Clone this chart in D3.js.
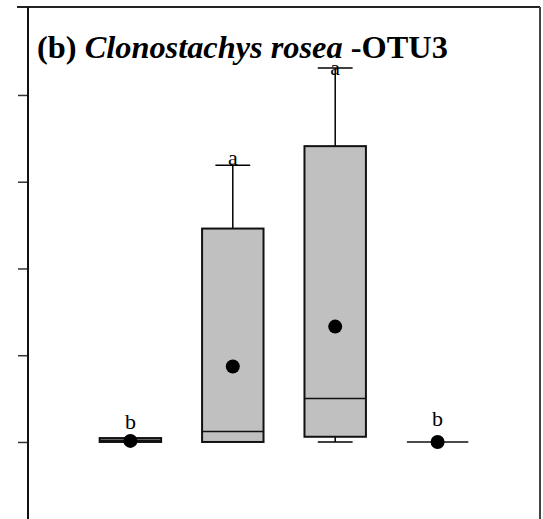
<!DOCTYPE html>
<html><head><meta charset="utf-8">
<script src="https://cdn.jsdelivr.net/npm/d3@7"></script>
<style>body{margin:0;background:#fff}svg{display:block}</style>
</head><body>
<svg id="c" width="543" height="519"></svg>
<script>
// ---- data ----
const categories = ["G1", "G2", "G3", "G4"];
const whiskerLow  = [0.00, 0.00, 0.00, 0.00];
const q1          = [0.00, 0.00, 0.06, 0.00];
const medians     = [0.02, 0.12, 0.50, 0.00];
const q3          = [0.045, 2.46, 3.41, 0.00];
const whiskerHigh = [0.045, 3.19, 4.31, 0.00];
const means       = [0.012, 0.87, 1.33, 0.00];
const letters     = ["b", "a", "a", "b"];
const letterY     = [0.15, 3.19, 4.23, 0.18];
const yTicks      = [0, 1, 2, 3, 4];

const FONT = "'Liberation Serif', 'Times New Roman', serif";
const svg = d3.select("#c");
const x = d3.scaleLinear().domain([0, 5]).range([28, 540]);
const y = d3.scaleLinear().domain([-0.888, 5.014]).range([519, 7]);
const bw = x(0.6) - x(0);
const cw = x(0.34) - x(0);

// frame
svg.append("line").attr("x1", 17).attr("x2", 540).attr("y1", 7).attr("y2", 7)
  .attr("stroke", "#222").attr("stroke-width", 2);
svg.append("line").attr("x1", 540).attr("x2", 540).attr("y1", 7).attr("y2", 519)
  .attr("stroke", "#444").attr("stroke-width", 2);

// y axis
const yAxis = d3.axisLeft(y).tickValues(yTicks).tickSize(10).tickFormat(() => "");
const ga = svg.append("g").attr("transform", "translate(28,0)").call(yAxis);
ga.select(".domain").remove();
ga.selectAll(".tick line").attr("stroke", "#333").attr("stroke-width", 1.5);
svg.append("line").attr("x1", 28).attr("x2", 28).attr("y1", 7).attr("y2", 519)
  .attr("stroke", "#111").attr("stroke-width", 2);

const data = categories.map((c, i) => ({
  c, i: i + 1, lo: whiskerLow[i], q1: q1[i], med: medians[i], q3: q3[i],
  hi: whiskerHigh[i], mean: means[i], letter: letters[i], ly: letterY[i]
}));

const g = svg.append("g");
data.forEach(d => {
  const cx = x(d.i);
  if (d.hi > d.q3) {
    g.append("line").attr("x1", cx).attr("x2", cx).attr("y1", y(d.q3)).attr("y2", y(d.hi))
      .attr("stroke", "#000").attr("stroke-width", 1.5);
    g.append("line").attr("x1", cx - cw/2).attr("x2", cx + cw/2).attr("y1", y(d.hi)).attr("y2", y(d.hi))
      .attr("stroke", "#000").attr("stroke-width", 1.5);
  }
  if (d.lo < d.q1) {
    g.append("line").attr("x1", cx).attr("x2", cx).attr("y1", y(d.q1)).attr("y2", y(d.lo))
      .attr("stroke", "#000").attr("stroke-width", 1.5);
    g.append("line").attr("x1", cx - cw/2).attr("x2", cx + cw/2).attr("y1", y(d.lo)).attr("y2", y(d.lo))
      .attr("stroke", "#000").attr("stroke-width", 1.5);
  }
  g.append("rect").attr("x", cx - bw/2).attr("width", bw)
    .attr("y", y(d.q3)).attr("height", Math.max(0, y(d.q1) - y(d.q3)))
    .attr("fill", "#c0c0c0").attr("stroke", "#111").attr("stroke-width", 2);
  g.append("line").attr("x1", cx - bw/2).attr("x2", cx + bw/2).attr("y1", y(d.med)).attr("y2", y(d.med))
    .attr("stroke", "#111").attr("stroke-width", 1.5);
  g.append("circle").attr("cx", cx).attr("cy", y(d.mean)).attr("r", 7).attr("fill", "#000");
  g.append("text").attr("x", cx).attr("y", y(d.ly)).attr("text-anchor", "middle")
    .style("font-family", FONT).style("font-size", "22px")
    .attr("fill", "#000").text(d.letter);
});

// title, fitted to the reference width
const t = svg.append("text").attr("x", 37).attr("y", 57.5)
  .style("font-family", FONT).style("font-size", "29px")
  .style("font-weight", "bold").attr("fill", "#000");
t.append("tspan").text("(b) ");
t.append("tspan").style("font-style", "italic").text("Clonostachys rosea");
t.append("tspan").text(" -OTU3");
const w = t.node().getComputedTextLength();
t.style("font-size", (29 * 411 / w).toFixed(2) + "px");
</script>
</body></html>
